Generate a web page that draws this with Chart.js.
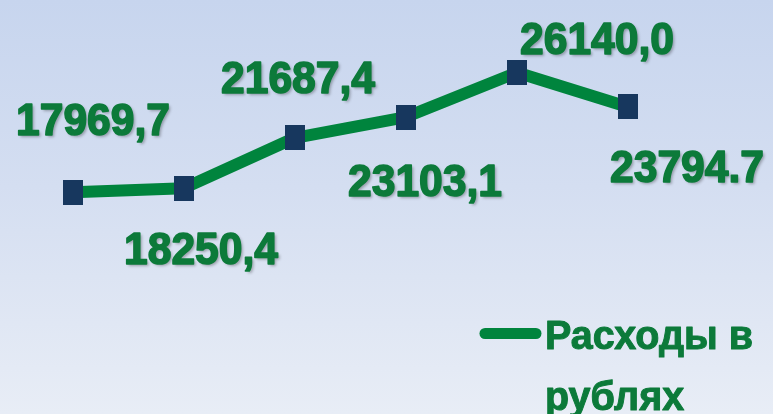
<!DOCTYPE html>
<html>
<head>
<meta charset="utf-8">
<script src="https://cdn.jsdelivr.net/npm/chart.js@4.4.0/dist/chart.umd.min.js"></script>
<style>
  html, body { margin: 0; padding: 0; }
  body {
    width: 773px; height: 414px; overflow: hidden;
    background: linear-gradient(to bottom, #c7d5ee 0%, #d4def1 45%, #e8edf6 100%);
  }
  #wrap { position: relative; width: 773px; height: 414px; }
  canvas { display: block; }
</style>
</head>
<body>
<div id="wrap"><canvas id="chart" width="773" height="414"></canvas></div>
<script>
// Data
const years = ['2016', '2017', '2018', '2019', '2020', '2021'];
const expenses = [17969.7, 18250.4, 21687.4, 23103.1, 26140.0, 23794.7];
const valueLabels = ['17969,7', '18250,4', '21687,4', '23103,1', '26140,0', '23794.7'];
const seriesName = 'Расходы в рублях';

// Colours
const lineGreen = '#00843d';
const textGreen = '#0c7a3a';
const markerBlue = '#17375e';

// Rectangular marker (taller than wide)
const marker = document.createElement('canvas');
marker.width = 20;
marker.height = 25;
const mctx = marker.getContext('2d');
mctx.fillStyle = markerBlue;
mctx.fillRect(0, 0, 20, 25);

// where each value label sits relative to its point (centre x, baseline y)
const labelOffsets = [[20, -57], [17, 76], [3, -45], [19, 79], [80, -19], [59, 75]];

// draw text squeezed horizontally to a given width, a bit heavier
function fitText(ctx, text, x, y, width, align, weight) {
    const w = ctx.measureText(text).width;
    const sx = width / w;
    ctx.save();
    ctx.translate(x, y);
    ctx.scale(sx, 1);
    ctx.textAlign = align;
    ctx.fillText(text, 0, 0);
    ctx.shadowColor = 'transparent';
    ctx.lineWidth = weight;
    ctx.lineJoin = 'round';
    ctx.strokeStyle = ctx.fillStyle;
    ctx.strokeText(text, 0, 0);
    ctx.restore();
}

const labelsPlugin = {
    id: 'valueLabels',
    afterDatasetsDraw(chart) {
        const ctx = chart.ctx;
        const meta = chart.getDatasetMeta(0);
        ctx.save();
        ctx.font = 'bold 44px "Liberation Sans", Arial, sans-serif';
        ctx.fillStyle = textGreen;
        ctx.textBaseline = 'alphabetic';
        ctx.shadowColor = 'rgba(0,0,0,0.3)';
        ctx.shadowOffsetX = 2;
        ctx.shadowOffsetY = 2;
        ctx.shadowBlur = 3;
        meta.data.forEach((pt, i) => {
            const off = labelOffsets[i];
            fitText(ctx, valueLabels[i], pt.x + off[0], pt.y + off[1], 154, 'center', 1.6);
        });
        ctx.restore();

        // Legend (two lines, drawn by hand)
        ctx.save();
        ctx.strokeStyle = lineGreen;
        ctx.lineWidth = 11;
        ctx.lineCap = 'round';
        ctx.beginPath();
        ctx.moveTo(485, 333.5);
        ctx.lineTo(536, 333.5);
        ctx.stroke();
        ctx.font = 'bold 41px "Liberation Sans", Arial, sans-serif';
        ctx.fillStyle = textGreen;
        ctx.textBaseline = 'alphabetic';
        const words = chart.data.datasets[0].label.split(' ');
        const line1 = words.slice(0, 2).join(' ');
        const line2 = words.slice(2).join(' ');
        const sx = 208 / ctx.measureText(line1).width;
        fitText(ctx, line1, 545, 349, 208, 'left', 1);
        fitText(ctx, line2, 545, 410, ctx.measureText(line2).width * sx, 'left', 1);
        ctx.restore();
    }
};

const ctx = document.getElementById('chart').getContext('2d');
const chart = new Chart(ctx, {
    type: 'line',
    data: {
        labels: years,
        datasets: [{
            label: seriesName,
            data: expenses,
            borderColor: lineGreen,
            borderWidth: 12,
            borderCapStyle: 'round',
            borderJoinStyle: 'round',
            tension: 0,
            pointStyle: marker,
            clip: false
        }]
    },
    options: {
        responsive: false,
        animation: false,
        devicePixelRatio: 1,
        layout: {
            padding: { left: 73, right: 145, top: 7, bottom: 105 }
        },
        plugins: {
            legend: { display: false },
            tooltip: { enabled: false }
        },
        scales: {
            x: { display: false, offset: false },
            y: { display: false, min: 10000, max: 30000 }
        }
    },
    plugins: [labelsPlugin]
});
</script>
</body>
</html>
